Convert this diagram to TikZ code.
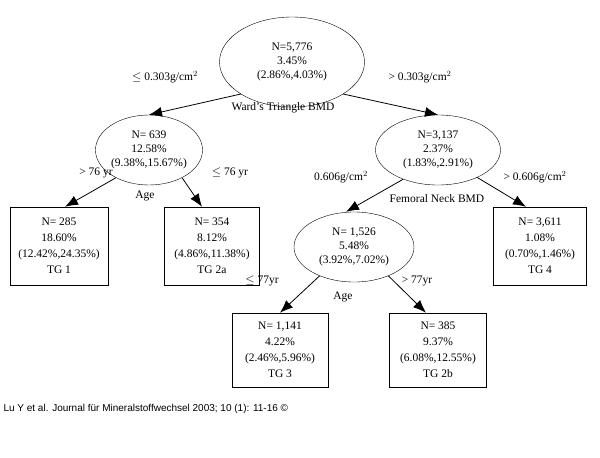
\documentclass[tikz,border=0pt]{standalone}
\usepackage{fontspec}
\setmainfont{Liberation Serif}
\setsansfont{Liberation Sans}
\usetikzlibrary{shapes.geometric, arrows.meta}
\tikzset{
	split/.style={
		draw,
		ellipse,
		inner sep=0pt,
		align=center,
		font=\fontsize{11.5}{14}\selectfont
	},
	leaf/.style={
		draw,
		rectangle,
		inner sep=0pt,
		align=center,
		font=\fontsize{11.5}{16}\selectfont
	},
	lbl/.style={font=\fontsize{11.5}{14}\selectfont}
}

\begin{document}
\begin{tikzpicture}[x=1pt, y=-1pt]
	\tikzset{edge/.style={-{Latex[length=13pt,width=10pt]}, thick}}
	\useasboundingbox (0,0) rectangle (600,458);

	\node(root) at (292,62) [split, minimum width=145, minimum height=90] {N=5,776\\3.45\%\\(2.86\%,4.03\%)};
	\node(age1) at (149,150) [split, minimum width=104, minimum height=70] {N= 639\\12.58\%\\(9.38\%,15.67\%)};
	\node(fn) at (438,150) [split, minimum width=125, minimum height=70] {N=3,137\\2.37\%\\(1.83\%,2.91\%)};
	\node(age2) at (354,247) [split, minimum width=120, minimum height=70] {N= 1,526\\5.48\%\\(3.92\%,7.02\%)};

	\node(tg1) at (59,246) [leaf, minimum width=98, minimum height=78] {N= 285\\18.60\%\\(12.42\%,24.35\%)\\TG 1};
	\node(tg2a) at (212,246) [leaf, minimum width=95, minimum height=78] {N= 354\\8.12\%\\(4.86\%,11.38\%)\\TG 2a};
	\node(tg4) at (540,246) [leaf, minimum width=93, minimum height=78] {N= 3,611\\1.08\%\\(0.70\%,1.46\%)\\TG 4};
	\node(tg3) at (280,350) [leaf, minimum width=96, minimum height=74] {N= 1,141\\4.22\%\\(2.46\%,5.96\%)\\TG 3};
	\node(tg2b) at (438,350) [leaf, minimum width=97, minimum height=74] {N= 385\\9.37\%\\(6.08\%,12.55\%)\\TG 2b};

	% split variables and cut points
	\node(wtb) at (283,108) [lbl] {Ward's Triangle BMD};
	\node(agea) at (145,196) [lbl] {Age};
	\node(fnb) at (437,199) [lbl] {Femoral Neck BMD};
	\node(ageb) at (343,297) [lbl] {Age};
	\node(c1) at (165,77) [lbl] {$\leq$ 0.303g/cm$^2$};
	\node(c2) at (420,77) [lbl] {> 0.303g/cm$^2$};
	\node(c3) at (96,173) [lbl] {> 76 yr};
	\node(c4) at (230,173) [lbl] {$\leq$ 76 yr};
	\node(c5) at (341,177) [lbl] {0.606g/cm$^2$};
	\node(c6) at (535,177) [lbl] {> 0.606g/cm$^2$};
	\node(c7) at (262,281) [lbl] {$\leq$ 77yr};
	\node(c8) at (417,281) [lbl] {> 77yr};

	\draw[edge](root.212) -- (age1.north);
	\draw[edge](root.328) -- (fn.north);
	\draw[edge](age1.220) -- ([xshift=6]tg1.north);
	\draw[edge](age1.320) -- ([xshift=-10]tg2a.north);
	\draw[edge](fn.220) -- ([xshift=-8]age2.north);
	\draw[edge](fn.325) -- ([xshift=-14]tg4.north);
	\draw[edge](age2.220) -- (tg3.north);
	\draw[edge](age2.320) -- ([xshift=-12]tg2b.north);

	\node(src) at (0,409) [anchor=west, font=\sffamily\fontsize{10}{12}\selectfont] {Lu Y et al. Journal für Mineralstoffwechsel 2003; 10 (1): 11-16 ©};
\end{tikzpicture}
\end{document}
